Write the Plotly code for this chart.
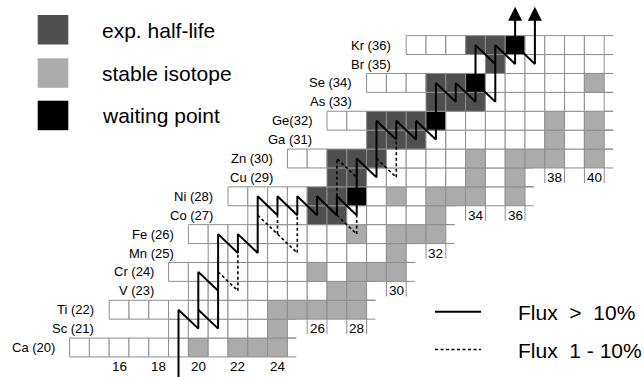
import plotly.graph_objects as go

# ---------------- data ----------------
Z_vals = list(range(20, 37))
row_labels = ["Ca (20)", "Sc (21)", "Ti (22)", "V (23)", "Cr (24)", "Mn (25)", "Fe (26)",
              "Co (27)", "Ni (28)", "Cu (29)", "Zn (30)", "Ga (31)", "Ge(32)", "As (33)",
              "Se (34)", "Br (35)", "Kr (36)"]
n_first = [14, 19, 16, 20, 19, 21, 20, 23, 22, 27, 25, 29, 27, 32, 29, 35, 31]
n_last = [24, 24, 28, 28, 30, 30, 32, 32, 36, 36, 40, 40, 40, 40, 40, 40, 40]

stable = {20: [20, 22, 23, 24], 21: [24], 22: [24, 25, 26, 27, 28], 23: [27, 28],
          24: [26, 28, 29, 30], 25: [30], 26: [28, 30, 31, 32], 27: [32],
          28: [30, 32, 33, 34, 36], 29: [34, 36], 30: [34, 36, 37, 38, 40],
          31: [38, 40], 32: [38, 40], 34: [40]}
exp_half_life = {27: [26, 27], 28: [26, 27], 29: [27, 28], 30: [27, 28, 29],
                 31: [29, 30, 31], 32: [29, 30, 31], 33: [32, 33, 34],
                 34: [32, 33], 35: [35], 36: [34, 35]}
waiting_points = {28: [28], 32: [32], 34: [34], 36: [36]}

n_ticks = [16, 18, 20, 22, 24, 26, 28, 30, 32, 34, 36, 38, 40]
n_tick_row = [19, 19, 19, 19, 19, 21, 21, 23, 25, 27, 27, 29, 29]

# flux paths as sequences of nuclei (N, Z)
flux_strong = [
    [(19, 18.3), (19, 22), (20, 21), (20, 24), (21, 23), (21, 26), (22, 25), (22, 26),
     (23, 25), (23, 28), (24, 27), (24, 28), (25, 27), (25, 28), (26, 27), (26, 28),
     (27, 27), (27, 28), (28, 27), (28, 30), (29, 29), (29, 32), (30, 31), (30, 32),
     (31, 31), (31, 32), (32, 31), (32, 34), (33, 33), (33, 34), (34, 33), (34, 36),
     (35, 35), (35, 36), (36, 35), (36, 37.4)],
    [(20, 22), (21, 21), (21, 23)],
    [(34, 34), (35, 33), (35, 35)],
    [(36, 36), (37, 35), (37, 37.4)],
]
flux_weak = [
    [(21, 24), (22, 23), (22, 25)],
    [(23, 27), (24, 26), (25, 25), (25, 27)],
    [(24, 26), (24, 27)],
    [(27, 27), (28, 26), (28, 27)],
    [(27, 28), (27, 30), (28, 29)],
    [(29, 30), (30, 29), (30, 31)],
]
escape_N = [36, 37]

legend_boxes = ["exp. half-life", "stable isotope", "waiting point"]
legend_lines = ["Flux\u00a0\u00a0>\u00a0\u00a010%", "Flux\u00a0\u00a01\u00a0-\u00a010%"]

# ---------------- styles ----------------
C_DARK = "#4f4f4f"
C_STABLE = "#ababab"
C_BLACK = "#000000"
C_GRID = "#8e8e8e"
FONT = "Liberation Sans, Arial, sans-serif"
W, H = 644, 377
OVERHANG = 0.45

# ---------------- cells ----------------
xs, bases, colors = [], [], []
for Z, n0, n1 in zip(Z_vals, n_first, n_last):
    for N in range(n0, n1 + 1):
        xs.append(N)
        bases.append(Z - 0.5)
        if N in waiting_points.get(Z, []):
            colors.append(C_BLACK)
        elif N in exp_half_life.get(Z, []):
            colors.append(C_DARK)
        elif N in stable.get(Z, []):
            colors.append(C_STABLE)
        else:
            colors.append("#ffffff")

fig = go.Figure()
fig.add_trace(go.Bar(x=xs, y=[1] * len(xs), base=bases, width=1,
                     marker=dict(color=colors, line=dict(color=C_GRID, width=1)),
                     hoverinfo="skip", showlegend=False))

# short overhang of the row lines past the last cell of each row
shapes = []
for Z, n1 in zip(Z_vals, n_last):
    for dz in (-0.5, 0.5):
        shapes.append(dict(type="line", xref="x", yref="y", x0=n1 + 0.5,
                           x1=n1 + 0.5 + OVERHANG, y0=Z + dz, y1=Z + dz,
                           line=dict(color=C_GRID, width=1), layer="below"))


def poly_xy(paths):
    px, py = [], []
    for p in paths:
        for n, z in p:
            px.append(n)
            py.append(z)
        px.append(None)
        py.append(None)
    return px, py


sx, sy = poly_xy(flux_strong)
fig.add_trace(go.Scatter(x=sx, y=sy, mode="lines", line=dict(color="black", width=2),
                         hoverinfo="skip", showlegend=False))
wx, wy = poly_xy(flux_weak)
fig.add_trace(go.Scatter(x=wx, y=wy, mode="lines",
                         line=dict(color="black", width=1.6, dash="3px,2.5px"),
                         hoverinfo="skip", showlegend=False))

annotations = []
# escape arrows
for N in escape_N:
    annotations.append(dict(x=N, y=38.03, ax=N, ay=37.0, xref="x", yref="y",
                            axref="x", ayref="y", text="", showarrow=True,
                            arrowhead=2, arrowsize=1.4, arrowwidth=2,
                            arrowcolor="black", standoff=0))

# element labels
for i, (Z, lab) in enumerate(zip(Z_vals, row_labels)):
    pair = i if Z % 2 == 0 else i + 1
    xr = n_first[pair] - 0.5 - 0.65
    annotations.append(dict(x=xr, y=Z, xref="x", yref="y", text=lab, showarrow=False,
                            xanchor="right", yanchor="middle",
                            font=dict(family=FONT, size=13, color="black")))

# neutron number labels and their small ticks
for N, zr in zip(n_ticks, n_tick_row):
    annotations.append(dict(x=N, y=zr, xref="x", yref="y", text=str(N), showarrow=False,
                            xanchor="center", yanchor="middle",
                            font=dict(family=FONT, size=13.5, color="black")))
    if zr != 19:
        for dx in (-0.5, 0.5):
            shapes.append(dict(type="line", xref="x", yref="y", x0=N + dx, x1=N + dx,
                               y0=zr + 0.5, y1=zr - 0.3,
                               line=dict(color=C_GRID, width=1)))


def px_x(v):
    return v / W


def px_y(v):
    return 1 - v / H


# legend boxes
box_cols = [C_DARK, C_STABLE, C_BLACK]
box_top = [15, 58.3, 100.7]
for lab, col, t in zip(legend_boxes, box_cols, box_top):
    shapes.append(dict(type="rect", xref="paper", yref="paper",
                       x0=px_x(37.7), x1=px_x(68.3), y0=px_y(t + 29.5), y1=px_y(t),
                       fillcolor=col, line=dict(width=0)))
    annotations.append(dict(x=px_x(100), y=px_y(t + 15), xref="paper", yref="paper",
                            text=lab, showarrow=False, xanchor="left", yanchor="middle",
                            font=dict(family=FONT, size=21, color="black")))

# flux legend
line_y = [311.7, 349.5]
line_dash = ["solid", "3px,2.5px"]
line_w = [2, 1.6]
for lab, yy, ds, lw in zip(legend_lines, line_y, line_dash, line_w):
    shapes.append(dict(type="line", xref="paper", yref="paper",
                       x0=px_x(435), x1=px_x(481), y0=px_y(yy), y1=px_y(yy),
                       line=dict(color="black", width=lw, dash=ds)))
    annotations.append(dict(x=px_x(516), y=px_y(yy + 0.5), xref="paper", yref="paper",
                            text=lab, showarrow=False, xanchor="left", yanchor="middle",
                            font=dict(family=FONT, size=21, color="black")))

fig.update_layout(
    width=W, height=H, margin=dict(l=0, r=0, t=0, b=0),
    paper_bgcolor="white", plot_bgcolor="white",
    barmode="overlay", showlegend=False,
    xaxis=dict(range=[9.985, 42.51], visible=False, fixedrange=True),
    yaxis=dict(range=[18.439, 38.386], visible=False, fixedrange=True),
    annotations=annotations, shapes=shapes,
)

fig.write_html("out.html", config={"displayModeBar": False},
               post_script="document.body.style.margin='0px';document.body.style.overflow='hidden';")
